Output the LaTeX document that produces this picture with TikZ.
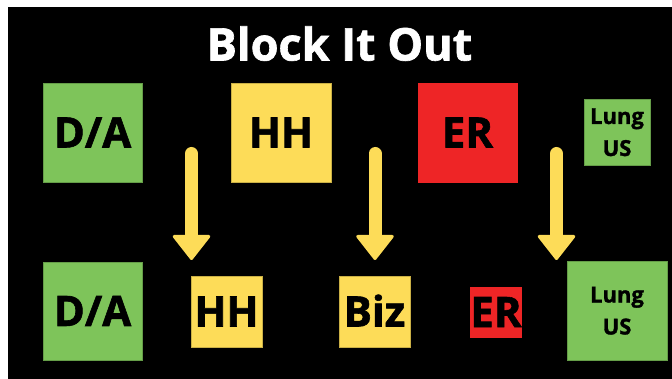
\documentclass[tikz,border=0pt]{standalone}
\usepackage{fontspec}
\setmainfont{Open Sans}[BoldFeatures={FakeBold=1.4}]
\usetikzlibrary{arrows.meta}

\definecolor{lgreen}{HTML}{7EC45A}
\definecolor{lyellow}{HTML}{FDDC58}
\definecolor{lred}{HTML}{EE2526}

\begin{document}
\begin{tikzpicture}[x=1pt, y=-1pt,
    block/.style={inner sep=0pt, line width=0.7pt, text=black,
      font=\fontsize{42}{42}\selectfont\bfseries, text height=30pt, text depth=0pt},
    greenblock/.style={block, fill=lgreen, draw=lgreen!80!black},
    yellowblock/.style={block, fill=lyellow, draw=lyellow!80!black},
    redblock/.style={block, fill=lred, draw=lred},
    lungblock/.style={greenblock, align=center,
      font=\fontsize{22}{32}\selectfont\bfseries, text height=48pt, text depth=0pt},
    downarrow/.style={draw=lyellow, line width=13pt, line cap=round,
      -{Triangle[width=40pt, length=26pt, line width=3pt, round]}}]
  \useasboundingbox (0,0) rectangle (672,379);
  \fill[white] (0,0) rectangle (672,379);
  \fill[black] (8,7) rectangle (672,379);

  \node[text=white, font=\fontsize{45}{45}\selectfont\bfseries,
    text height=32pt, text depth=0pt, inner sep=0pt] (title) at (339.5,44.5) {Block It Out};

  % top row
  \node[greenblock, minimum width=99pt, minimum height=99pt] (da1) at (92.5,132.5) {D/A};
  \node[yellowblock, minimum width=100pt, minimum height=99pt] (hh1) at (281,132.5) {HH};
  \node[redblock, minimum width=99pt, minimum height=99pt] (er1) at (467.5,132.5) {ER};
  \node[lungblock, minimum width=66pt, minimum height=66pt] (lung1) at (617,132) {Lung\\US};

  % bottom row
  \node[greenblock, minimum width=99pt, minimum height=98pt] (da2) at (92.5,311) {D/A};
  \node[yellowblock, minimum width=71pt, minimum height=71pt] (hh2) at (226.5,311.5) {HH};
  \node[yellowblock, minimum width=71pt, minimum height=71pt] (biz) at (374.5,311.5) {Biz};
  \node[redblock, minimum width=50pt, minimum height=50pt] (er2) at (496,312) {ER};
  \node[lungblock, minimum width=100pt, minimum height=99pt] (lung2) at (617,310.5) {Lung\\US};

  % arrows
  \coordinate (s1) at (191.5,153.5);
  \coordinate (t1) at (191.5,260);
  \coordinate (s2) at (375,153.5);
  \coordinate (t2) at (375,260);
  \coordinate (s3) at (556.5,153.5);
  \coordinate (t3) at (556.5,260);
  \draw[downarrow] (s1) -- (t1);
  \draw[downarrow] (s2) -- (t2);
  \draw[downarrow] (s3) -- (t3);
\end{tikzpicture}
\end{document}
